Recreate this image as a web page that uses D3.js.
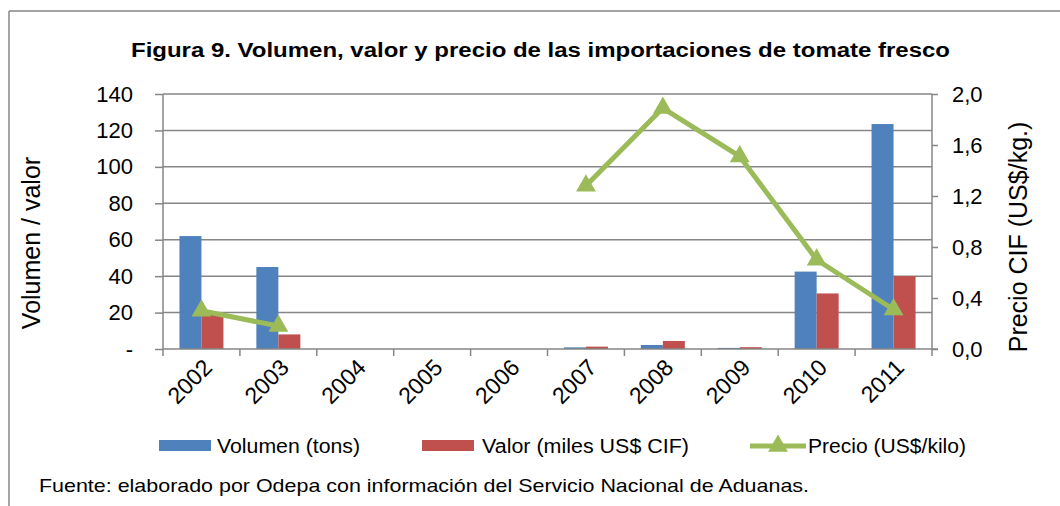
<!DOCTYPE html>
<html>
<head>
<meta charset="utf-8">
<title>Figura 9</title>
<script src="https://cdn.jsdelivr.net/npm/d3@7"></script>
<style>
  body { margin: 0; background: #fff; }
  text { font-family: "Liberation Sans", Arial, sans-serif; fill: #000; }
</style>
</head>
<body>
<svg id="vis" width="1060" height="506"></svg>
<script>
// datos
var years   = ["2002","2003","2004","2005","2006","2007","2008","2009","2010","2011"];
var volumen = [62, 45, 0, 0, 0, 0.9, 2.2, 0.6, 42.5, 123.5];
var valor   = [19, 8, 0, 0, 0, 1.3, 4.4, 1.0, 30.5, 40];
var precio  = [0.30, 0.18, null, null, null, 1.28, 1.89, 1.51, 0.70, 0.31];
var leftTicks  = [0, 20, 40, 60, 80, 100, 120, 140];
var rightTicks = [0, 0.4, 0.8, 1.2, 1.6, 2.0];

var svg = d3.select("#vis");
var grey = "#868686";
var blue = "#4F81BD", red = "#C0504D", green = "#9BBB59";

// area del grafico (no usar "top": choca con window.top)
var pLeft = 163, pRight = 932, pTop = 94, pBottom = 349;

// marco
svg.append("line").attr("x1", 9).attr("y1", 11).attr("x2", 1060).attr("y2", 11)
   .attr("stroke", grey).attr("stroke-width", 1.5);
svg.append("line").attr("x1", 9).attr("y1", 11).attr("x2", 9).attr("y2", 506)
   .attr("stroke", grey).attr("stroke-width", 1.5);

svg.append("text").attr("x", 131).attr("y", 57)
   .attr("textLength", 819).attr("lengthAdjust", "spacingAndGlyphs")
   .style("font-size", "20px").style("font-weight", "bold")
   .text("Figura 9. Volumen, valor y precio de las importaciones de tomate fresco");

var x = d3.scaleBand().domain(years).range([pLeft, pRight]);
var yL = d3.scaleLinear().domain([0, 140]).range([pBottom, pTop]);
var yR = d3.scaleLinear().domain([0, 2]).range([pBottom, pTop]);

// grilla
svg.append("g").selectAll("line").data(leftTicks.slice(1)).join("line")
   .attr("x1", pLeft).attr("x2", pRight)
   .attr("y1", d => yL(d)).attr("y2", d => yL(d))
   .attr("stroke", grey).attr("stroke-width", 1.5);

// barras
var bw = 22;
svg.append("g").selectAll("rect").data(years).join("rect")
   .attr("x", d => x(d) + x.bandwidth() / 2 - bw)
   .attr("y", (d, i) => yL(volumen[i]))
   .attr("width", bw)
   .attr("height", (d, i) => pBottom - yL(volumen[i]))
   .attr("fill", blue);
svg.append("g").selectAll("rect").data(years).join("rect")
   .attr("x", d => x(d) + x.bandwidth() / 2)
   .attr("y", (d, i) => yL(valor[i]))
   .attr("width", bw)
   .attr("height", (d, i) => pBottom - yL(valor[i]))
   .attr("fill", red);

// ejes
var axL = svg.append("g").attr("transform", "translate(" + pLeft + ",0)")
   .call(d3.axisLeft(yL).tickValues(leftTicks).tickSize(8).tickPadding(22)
         .tickFormat(d => d === 0 ? "-" : d));
var axR = svg.append("g").attr("transform", "translate(" + pRight + ",0)")
   .call(d3.axisRight(yR).tickValues(rightTicks).tickSize(6).tickPadding(14)
         .tickFormat(d => d3.format(".1f")(d).replace(".", ",")));
[axL, axR].forEach(function (g) {
  g.select(".domain").attr("stroke", grey).attr("stroke-width", 1.5)
   .attr("d", "M0," + pTop + "V" + pBottom);
  g.selectAll(".tick line").attr("stroke", grey).attr("stroke-width", 1.5);
  g.selectAll(".tick text").style("font-size", "22px").attr("fill", "#000");
});
svg.append("line").attr("x1", pLeft).attr("x2", pRight + 6)
   .attr("y1", pBottom).attr("y2", pBottom)
   .attr("stroke", grey).attr("stroke-width", 1.5);

// marcas del eje x en los bordes de categoria
var edges = years.map(d => x(d)).concat([pRight]);
svg.append("g").selectAll("line").data(edges).join("line")
   .attr("x1", d => d).attr("x2", d => d)
   .attr("y1", pBottom).attr("y2", pBottom + 7)
   .attr("stroke", grey).attr("stroke-width", 1.5);

svg.append("g").selectAll("text").data(years).join("text")
   .attr("transform", d => "translate(" + (x(d) + x.bandwidth() / 2 + 12) + "," + (pBottom + 20) + ") rotate(-45)")
   .attr("text-anchor", "end")
   .style("font-size", "23px")
   .text(d => d);

// linea de precio
var line = d3.line()
   .defined(d => d !== null)
   .x((d, i) => x(years[i]) + x.bandwidth() / 2)
   .y(d => yR(d));
svg.append("path").datum(precio).attr("d", line)
   .attr("fill", "none").attr("stroke", green).attr("stroke-width", 5)
   .attr("stroke-linejoin", "round");

var tri = d3.symbol().type(d3.symbolTriangle).size(170);
svg.append("g").selectAll("path").data(precio.map((p, i) => ({p: p, y: years[i]})).filter(d => d.p !== null))
   .join("path")
   .attr("d", tri)
   .attr("transform", d => "translate(" + (x(d.y) + x.bandwidth() / 2) + "," + yR(d.p) + ")")
   .attr("fill", green);

// titulos de ejes
svg.append("text").attr("transform", "translate(40,243) rotate(-90)")
   .attr("text-anchor", "middle").style("font-size", "25px").text("Volumen / valor");
svg.append("text").attr("transform", "translate(1027,237) rotate(-90)")
   .attr("text-anchor", "middle").style("font-size", "25px").text("Precio CIF (US$/kg.)");

// leyenda
var legY = 446;
svg.append("rect").attr("x", 159).attr("y", legY - 6).attr("width", 52).attr("height", 11).attr("fill", blue);
svg.append("text").attr("x", 217).attr("y", legY + 7).style("font-size", "19.5px")
   .attr("textLength", 143).attr("lengthAdjust", "spacingAndGlyphs").text("Volumen (tons)");
svg.append("rect").attr("x", 422).attr("y", legY - 6).attr("width", 52).attr("height", 11).attr("fill", red);
svg.append("text").attr("x", 482).attr("y", legY + 7).style("font-size", "19.5px")
   .attr("textLength", 207).attr("lengthAdjust", "spacingAndGlyphs").text("Valor (miles US$ CIF)");
svg.append("line").attr("x1", 750).attr("x2", 806).attr("y1", legY).attr("y2", legY)
   .attr("stroke", green).attr("stroke-width", 5);
svg.append("path").attr("d", tri).attr("transform", "translate(778," + legY + ")").attr("fill", green);
svg.append("text").attr("x", 808).attr("y", legY + 7).style("font-size", "19.5px")
   .attr("textLength", 158).attr("lengthAdjust", "spacingAndGlyphs").text("Precio (US$/kilo)");

svg.append("text").attr("x", 39).attr("y", 492).style("font-size", "18.5px")
   .attr("textLength", 770).attr("lengthAdjust", "spacingAndGlyphs")
   .text("Fuente: elaborado por Odepa con información del Servicio Nacional de Aduanas.");
</script>
</body>
</html>
